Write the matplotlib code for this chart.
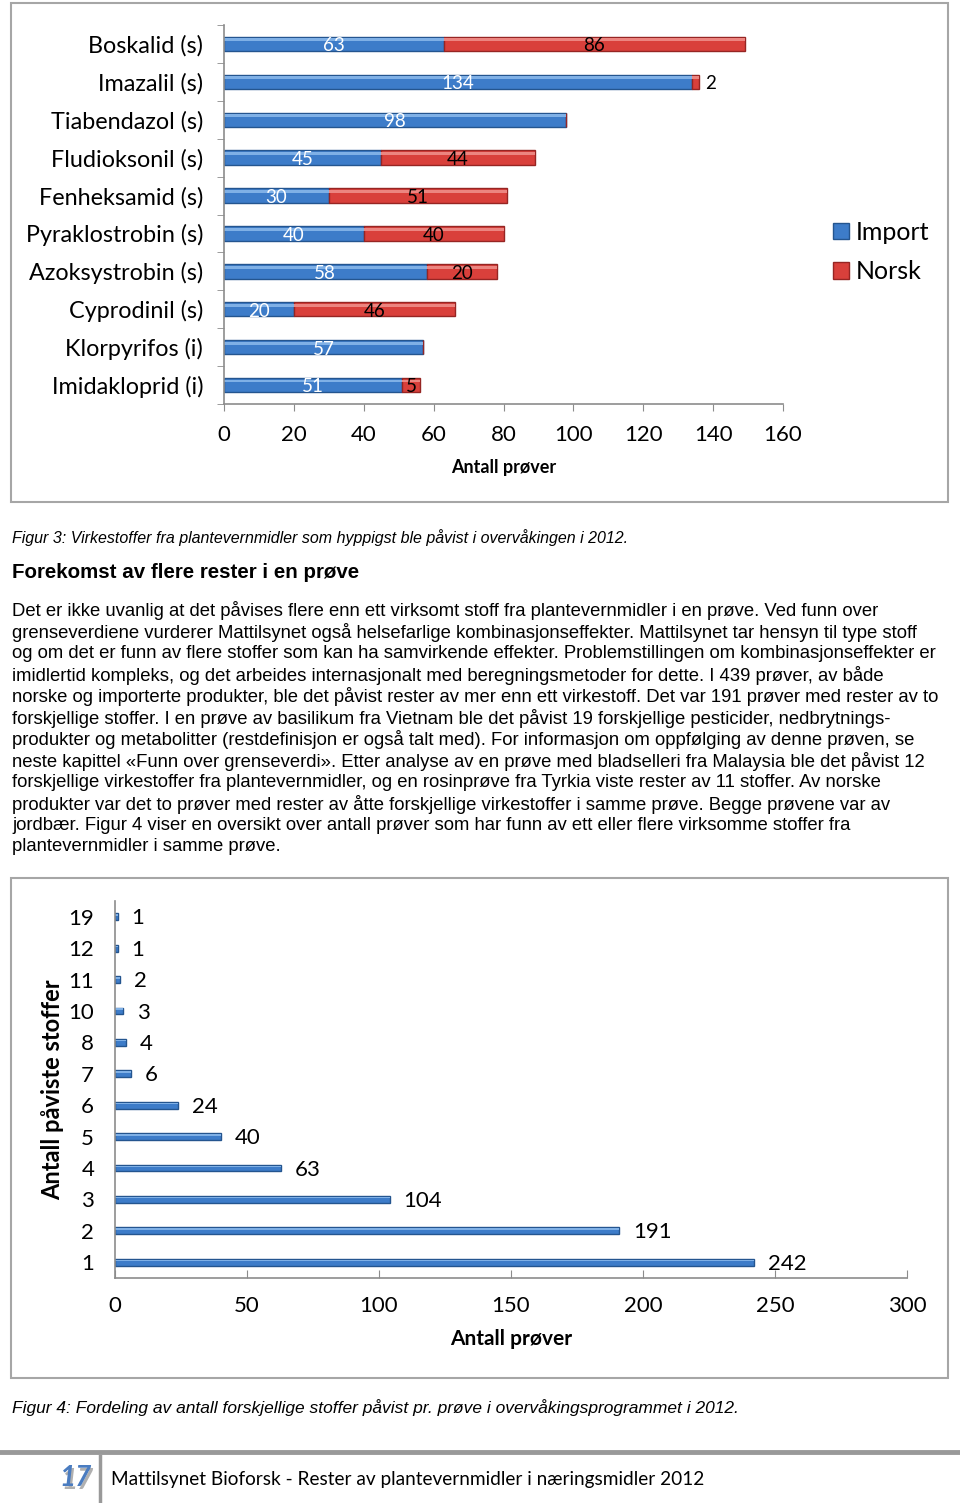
import matplotlib
matplotlib.use("Agg")
import matplotlib.pyplot as plt
import numpy as np
from matplotlib.patches import Rectangle, Patch
from matplotlib.lines import Line2D

W, H = 960, 1503

# Figur 3 data
stoffer = ["Boskalid (s)", "Imazalil (s)", "Tiabendazol (s)", "Fludioksonil (s)",
           "Fenheksamid (s)", "Pyraklostrobin (s)", "Azoksystrobin (s)",
           "Cyprodinil (s)", "Klorpyrifos (i)", "Imidakloprid (i)"]
importert = [63, 134, 98, 45, 30, 40, 58, 20, 57, 51]
norsk = [86, 2, 0, 44, 51, 40, 20, 46, 0, 5]

# Figur 4 data
antall_stoffer = ["19", "12", "11", "10", "8", "7", "6", "5", "4", "3", "2", "1"]
antall_prover = [1, 1, 2, 3, 4, 6, 24, 40, 63, 104, 191, 242]

avsnitt = [
    "Det er ikke uvanlig at det påvises flere enn ett virksomt stoff fra plantevernmidler i en prøve. Ved funn over",
    "grenseverdiene vurderer Mattilsynet også helsefarlige kombinasjonseffekter. Mattilsynet tar hensyn til type stoff",
    "og om det er funn av flere stoffer som kan ha samvirkende effekter. Problemstillingen om kombinasjonseffekter er",
    "imidlertid kompleks, og det arbeides internasjonalt med beregningsmetoder for dette. I 439 prøver, av både",
    "norske og importerte produkter, ble det påvist rester av mer enn ett virkestoff. Det var 191 prøver med rester av to",
    "forskjellige stoffer. I en prøve av basilikum fra Vietnam ble det påvist 19 forskjellige pesticider, nedbrytnings-",
    "produkter og metabolitter (restdefinisjon er også talt med). For informasjon om oppfølging av denne prøven, se",
    "neste kapittel «Funn over grenseverdi». Etter analyse av en prøve med bladselleri fra Malaysia ble det påvist 12",
    "forskjellige virkestoffer fra plantevernmidler, og en rosinprøve fra Tyrkia viste rester av 11 stoffer. Av norske",
    "produkter var det to prøver med rester av åtte forskjellige virkestoffer i samme prøve. Begge prøvene var av",
    "jordbær. Figur 4 viser en oversikt over antall prøver som har funn av ett eller flere virksomme stoffer fra",
    "plantevernmidler i samme prøve.",
]

blue = "#3d7cc9"
blue_dark = "#24558f"
red = "#d9403b"
red_dark = "#962523"
grey = "#8c8c8c"
chart_font = "Lato"
text_font = "Liberation Sans"


def fx(px):
    return px / W


def fy(py):
    return 1 - py / H


fig = plt.figure(figsize=(W / 100, H / 100), dpi=100)
fig.patch.set_facecolor("white")

# Rammer rundt figurene
for (x0, y0, x1, y1) in [(11, 3, 948, 502), (11, 878, 948, 1378)]:
    fig.patches.append(Rectangle((fx(x0), fy(y1)), fx(x1 - x0), (y1 - y0) / H,
                                 transform=fig.transFigure, fill=False,
                                 edgecolor="#a6a6a6", linewidth=1.5))

# ---- Figur 3 ----
ax1 = fig.add_axes([fx(224), fy(404), fx(559), 379 / H])
y = np.arange(len(stoffer))
h = 0.38
ax1.barh(y, importert, height=h, color=blue, edgecolor=blue_dark, linewidth=1.0)
ax1.barh(y, norsk, left=importert, height=h, color=red, edgecolor=red_dark, linewidth=1.0)
# blank kant oppe på stolpene
ax1.barh(y - h * 0.28, importert, height=h * 0.2, color="#7fb0e6", linewidth=0)
ax1.barh(y - h * 0.28, norsk, left=importert, height=h * 0.2, color="#ec8580", linewidth=0)

for i in range(len(stoffer)):
    ax1.text(importert[i] / 2, y[i] + 0.05, str(importert[i]), color="white",
             ha="center", va="center", fontsize=13.5, family=chart_font)
    if norsk[i] > 2:
        ax1.text(importert[i] + norsk[i] / 2, y[i] + 0.05, str(norsk[i]), color="black",
                 ha="center", va="center", fontsize=13.5, family=chart_font)
    elif norsk[i] > 0:
        ax1.annotate(str(norsk[i]), (importert[i] + norsk[i], y[i] + 0.05),
                     xytext=(4, 0), textcoords="offset points",
                     ha="left", va="center", fontsize=13.5, family=chart_font)

ax1.set_xlim(0, 160)
ax1.set_ylim(len(stoffer) - 0.5, -0.5)
ax1.set_xticks(np.arange(0, 161, 20))
ax1.set_yticks(y)
ax1.set_yticklabels(stoffer)
ax1.set_yticks(np.arange(-0.5, len(stoffer), 1), minor=True)
ax1.tick_params(axis="y", which="major", length=0, pad=15, labelsize=16.8)
ax1.tick_params(axis="y", which="minor", length=5, color=grey, direction="out")
ax1.tick_params(axis="x", length=5, color=grey, direction="out", pad=10, labelsize=16)
for lab in ax1.get_xticklabels() + ax1.get_yticklabels():
    lab.set_family(chart_font)
ax1.set_xlabel("Antall prøver", fontsize=13, fontweight="bold", family=chart_font, labelpad=10)
for s in ["top", "right"]:
    ax1.spines[s].set_visible(False)
for s in ["left", "bottom"]:
    ax1.spines[s].set_color(grey)
    ax1.spines[s].set_linewidth(1.2)

handles = [Patch(facecolor=blue, edgecolor=blue_dark, label="Import"),
           Patch(facecolor=red, edgecolor=red_dark, label="Norsk")]
fig.legend(handles=handles, loc="center left", bbox_to_anchor=(fx(810), fy(252)),
           frameon=False, handlelength=0.65, handleheight=0.65, handletextpad=0.3,
           labelspacing=0.65, prop={"family": chart_font, "size": 18})

# ---- tekst ----
fig.text(fx(12), fy(538), "Figur 3: Virkestoffer fra plantevernmidler som hyppigst ble påvist i overvåkingen i 2012.",
         fontsize=11.5, style="italic", family=text_font, va="center", ha="left")
fig.text(fx(12), fy(572), "Forekomst av flere rester i en prøve",
         fontsize=14.8, fontweight="bold", family=text_font, va="center", ha="left")
for i, linje in enumerate(avsnitt):
    fig.text(fx(12), fy(611 + i * 21.45), linje, fontsize=13.3, family=text_font,
             va="center", ha="left")

# ---- Figur 4 ----
ax2 = fig.add_axes([fx(115), fy(1278), fx(792), 377 / H])
y2 = np.arange(len(antall_stoffer))
h2 = 0.22
ax2.barh(y2, antall_prover, height=h2, color=blue, edgecolor=blue_dark, linewidth=1.0)
ax2.barh(y2 - h2 * 0.25, antall_prover, height=h2 * 0.22, color="#7fb0e6", linewidth=0)
for i in range(len(antall_stoffer)):
    ax2.annotate(str(antall_prover[i]), (antall_prover[i], y2[i] + 0.05),
                 xytext=(10, 0), textcoords="offset points", ha="left", va="center",
                 fontsize=16, family=chart_font)
ax2.set_xlim(0, 300)
ax2.set_ylim(len(antall_stoffer) - 0.5, -0.5)
ax2.set_xticks(np.arange(0, 301, 50))
ax2.set_yticks(y2)
ax2.set_yticklabels(antall_stoffer)
ax2.tick_params(axis="y", length=0, pad=15, labelsize=16)
ax2.tick_params(axis="x", length=6, color=grey, direction="in", pad=13, labelsize=16)
for lab in ax2.get_xticklabels() + ax2.get_yticklabels():
    lab.set_family(chart_font)
ax2.set_xlabel("Antall prøver", fontsize=15, fontweight="bold", family=chart_font, labelpad=9)
ax2.set_ylabel("Antall påviste stoffer", fontsize=17, fontweight="bold", family=chart_font)
ax2.yaxis.set_label_coords(fx(64 - 115) / fx(792), 0.5)
for s in ["top", "right"]:
    ax2.spines[s].set_visible(False)
for s in ["left", "bottom"]:
    ax2.spines[s].set_color(grey)
    ax2.spines[s].set_linewidth(1.2)

fig.text(fx(12), fy(1408),
         "Figur 4: Fordeling av antall forskjellige stoffer påvist pr. prøve i overvåkingsprogrammet i 2012.",
         fontsize=12.5, style="italic", family=text_font, va="center", ha="left")

# ---- bunntekst ----
fig.add_artist(Line2D([0, 1], [fy(1452), fy(1452)], transform=fig.transFigure,
                      color="#999999", linewidth=3.5))
fig.add_artist(Line2D([fx(100), fx(100)], [fy(1456), 0], transform=fig.transFigure,
                      color="#999999", linewidth=2.5))
fig.text(fx(77), fy(1481), "17", fontsize=20, fontweight="bold", style="italic",
         color="#b0b0b0", family=chart_font, ha="center", va="center")
fig.text(fx(75), fy(1478), "17", fontsize=20, fontweight="bold", style="italic",
         color="#4a7cc0", family=chart_font, ha="center", va="center")
fig.text(fx(111), fy(1479), "Mattilsynet Bioforsk - Rester av plantevernmidler i næringsmidler 2012",
         fontsize=13.7, family=chart_font, ha="left", va="center")

fig.savefig("out.png", dpi=100)
